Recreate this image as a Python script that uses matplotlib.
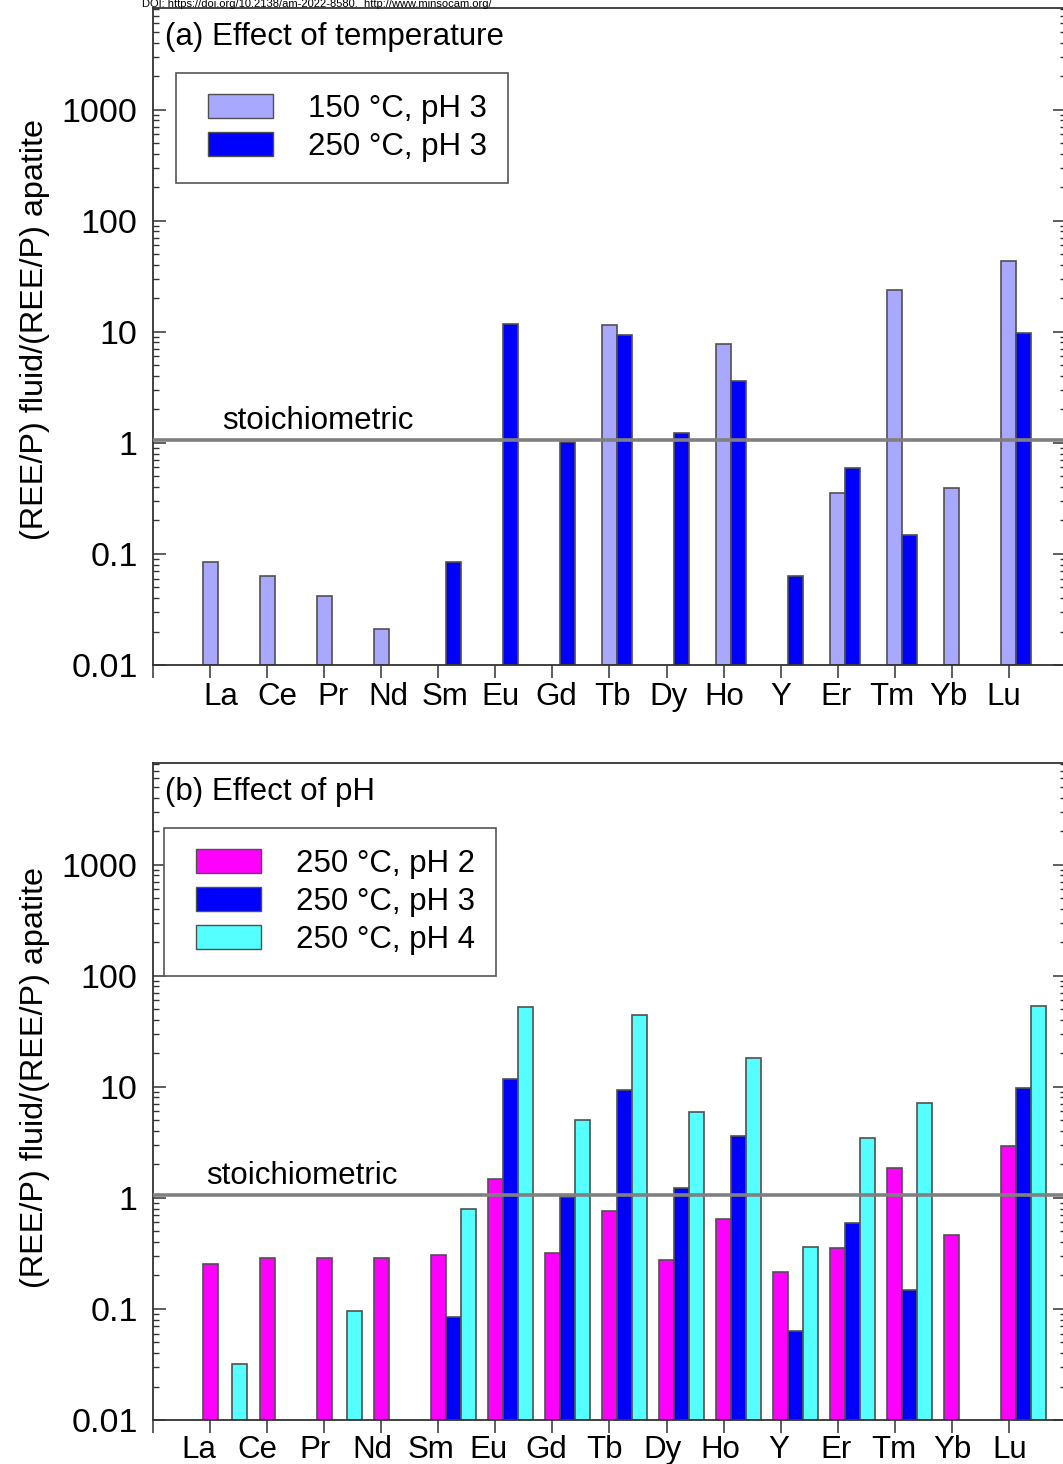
import numpy as np
import matplotlib
matplotlib.use("Agg")
import matplotlib.pyplot as plt
from matplotlib.patches import Patch, Rectangle
from matplotlib.legend_handler import HandlerPatch
from matplotlib.ticker import LogLocator, FixedLocator, NullFormatter
import matplotlib.transforms as mtransforms

plt.rcParams['font.family'] = ['Liberation Sans', 'DejaVu Sans']

nan = np.nan
elements = ['La', 'Ce', 'Pr', 'Nd', 'Sm', 'Eu', 'Gd', 'Tb', 'Dy', 'Ho', 'Y', 'Er', 'Tm', 'Yb', 'Lu']

# (a) effect of temperature, pH 3
t150_ph3 = [0.085, 0.063, 0.042, 0.021, nan, nan, nan, 11.5, nan, 7.75, nan, 0.35, 23.8, 0.39, 43.6]
t250_ph3 = [nan, nan, nan, nan, 0.085, 11.7, 1.02, 9.3, 1.22, 3.6, 0.063, 0.59, 0.147, nan, 9.8]

# (b) effect of pH, 250 C
t250_ph2 = [0.255, 0.287, 0.287, 0.287, 0.307, 1.49, 0.318, 0.76, 0.277, 0.647, 0.213, 0.353, 1.85, 0.465, 2.9]
t250_ph4 = [0.032, nan, 0.096, nan, 0.80, 52, 5.0, 44, 5.9, 18.0, 0.363, 3.44, 7.15, nan, 53.7]

stoich = 1.06
ymin, ymax = 0.01, 8200

c150 = '#a8a8ff'
cblue = '#0000ff'
cmag = '#ff00ff'
ccyan = '#55ffff'
edge = '#505050'

fig = plt.figure(figsize=(10.63, 14.64), dpi=100)
fig.text(142 / 1063, 1 - 7 / 1464, 'DOI: https://doi.org/10.2138/am-2022-8580.  http://www.minsocam.org/',
         fontsize=8, va='baseline', ha='left')

ax_a = fig.add_axes([153 / 1063, (1464 - 665) / 1464, 913 / 1063, 657 / 1464])
ax_b = fig.add_axes([153 / 1063, (1464 - 1420) / 1464, 913 / 1063, 657 / 1464])

x = np.arange(1, len(elements) + 1)
w = 0.262


def bars(ax, vals, offset, color):
    v = np.array(vals, dtype=float)
    ax.bar(x + offset, v - ymin, bottom=ymin, width=w, align='center',
           color=color, edgecolor=edge, linewidth=1.2, zorder=2)


bars(ax_a, t150_ph3, 0, c150)
bars(ax_a, t250_ph3, w, cblue)

bars(ax_b, t250_ph2, 0, cmag)
bars(ax_b, t250_ph3, w, cblue)
bars(ax_b, t250_ph4, 2 * w, ccyan)


def style(ax, title, label_x0, label_dx, label_base):
    ax.set_yscale('log')
    ax.set_ylim(ymin, ymax)
    ax.set_xlim(0, 16)
    ax.axhline(stoich, color='#808080', lw=2.6, zorder=3)
    ax.yaxis.set_major_locator(FixedLocator([0.01, 0.1, 1, 10, 100, 1000]))
    ax.set_yticklabels(['0.01', '0.1', '1', '10', '100', '1000'])
    ax.yaxis.set_minor_locator(LogLocator(base=10, subs=np.arange(2, 10), numticks=20))
    ax.yaxis.set_minor_formatter(NullFormatter())
    ax.tick_params(axis='y', which='both', direction='in', left=True, right=True,
                   labelsize=24.5, pad=11, color='#333333')
    ax.tick_params(axis='y', which='major', length=9.5, width=1.1)
    ax.tick_params(axis='y', which='minor', length=4.3, width=1.0)
    ax.set_xticks(np.arange(0, 16))
    ax.set_xticklabels([])
    ax.tick_params(axis='x', which='both', direction='out', length=9.5, width=1.1,
                   color='#333333', top=False)
    for sp in ax.spines.values():
        sp.set_color('#333333')
        sp.set_linewidth(1.3)
    trans = mtransforms.blended_transform_factory(ax.transData, ax.transAxes)
    for i, el in enumerate(elements):
        ax.text(label_x0 + label_dx * i, label_base, el, transform=trans,
                ha='center', va='baseline', fontsize=22.5, clip_on=False)
    ax.text(0.013, 0.944, title, transform=ax.transAxes, fontsize=22.5,
            ha='left', va='baseline')
    ax.set_ylabel('(REE/P) fluid/(REE/P) apatite', fontsize=23.3)


style(ax_a, '(a) Effect of temperature', 1.193, 0.98, -0.0609)
style(ax_b, '(b) Effect of pH', 0.807, 1.015, -0.0578)
ax_a.yaxis.set_label_coords(-0.113, 0.511)
ax_b.yaxis.set_label_coords(-0.113, 0.522)

ax_a.text(1.21, 1.34, 'stoichiometric', fontsize=22.5, va='baseline', ha='left')
ax_b.text(0.93, 1.33, 'stoichiometric', fontsize=22.5, va='baseline', ha='left')


def inset_rect(legend, orig_handle, xdescent, ydescent, width, height, fontsize):
    pad = 0.35 * fontsize
    return Rectangle((-xdescent + pad, -ydescent), width - pad, height)


leg_kw = dict(loc='upper left', fontsize=22.5, frameon=True, fancybox=False,
              framealpha=1, edgecolor='#555555', handlelength=2.43, handleheight=0.8,
              handletextpad=1.12, labelspacing=0.25, borderpad=0.67, borderaxespad=0,
              handler_map={Patch: HandlerPatch(patch_func=inset_rect)})

h_a = [Patch(facecolor=c150, edgecolor=edge, label='150 °C, pH 3'),
       Patch(facecolor=cblue, edgecolor=edge, label='250 °C, pH 3')]
la = ax_a.legend(handles=h_a, bbox_to_anchor=(0.025, 0.901), **leg_kw)
la.get_frame().set_linewidth(1.2)

h_b = [Patch(facecolor=cmag, edgecolor=edge, label='250 °C, pH 2'),
       Patch(facecolor=cblue, edgecolor=edge, label='250 °C, pH 3'),
       Patch(facecolor=ccyan, edgecolor=edge, label='250 °C, pH 4')]
lb = ax_b.legend(handles=h_b, bbox_to_anchor=(0.012, 0.901), **leg_kw)
lb.get_frame().set_linewidth(1.2)

fig.savefig('out.png', dpi=100)
